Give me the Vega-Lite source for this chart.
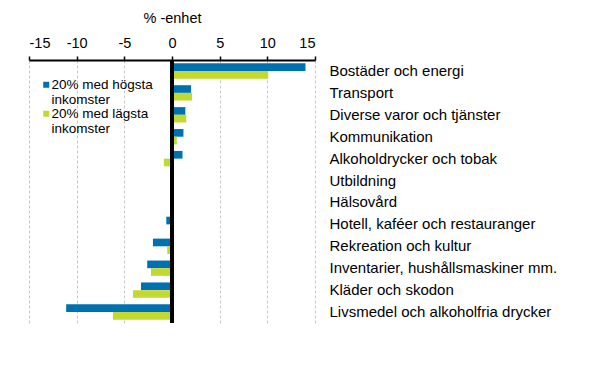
{
  "$schema": "https://vega.github.io/schema/vega-lite/v6.json",
  "autosize": "none",
  "width": 286,
  "height": 263,
  "padding": {"left": 29, "top": 60, "right": 299, "bottom": 55},
  "background": "white",
  "config": {"view": {"stroke": null}, "font": "Liberation Sans"},
  "data": {"values": [
    {"cat": "Bostäder och energi", "grupp": "20% med högsta inkomster", "value": 14.0},
    {"cat": "Bostäder och energi", "grupp": "20% med lägsta inkomster", "value": 10.1},
    {"cat": "Transport", "grupp": "20% med högsta inkomster", "value": 2.0},
    {"cat": "Transport", "grupp": "20% med lägsta inkomster", "value": 2.1},
    {"cat": "Diverse varor och tjänster", "grupp": "20% med högsta inkomster", "value": 1.4},
    {"cat": "Diverse varor och tjänster", "grupp": "20% med lägsta inkomster", "value": 1.5},
    {"cat": "Kommunikation", "grupp": "20% med högsta inkomster", "value": 1.2},
    {"cat": "Kommunikation", "grupp": "20% med lägsta inkomster", "value": 0.5},
    {"cat": "Alkoholdrycker och tobak", "grupp": "20% med högsta inkomster", "value": 1.1},
    {"cat": "Alkoholdrycker och tobak", "grupp": "20% med lägsta inkomster", "value": -0.85},
    {"cat": "Utbildning", "grupp": "20% med högsta inkomster", "value": 0},
    {"cat": "Utbildning", "grupp": "20% med lägsta inkomster", "value": 0},
    {"cat": "Hälsovård", "grupp": "20% med högsta inkomster", "value": 0},
    {"cat": "Hälsovård", "grupp": "20% med lägsta inkomster", "value": 0},
    {"cat": "Hotell, kaféer och restauranger", "grupp": "20% med högsta inkomster", "value": -0.6},
    {"cat": "Hotell, kaféer och restauranger", "grupp": "20% med lägsta inkomster", "value": -0.2},
    {"cat": "Rekreation och kultur", "grupp": "20% med högsta inkomster", "value": -2.0},
    {"cat": "Rekreation och kultur", "grupp": "20% med lägsta inkomster", "value": -0.5},
    {"cat": "Inventarier, hushållsmaskiner mm.", "grupp": "20% med högsta inkomster", "value": -2.6},
    {"cat": "Inventarier, hushållsmaskiner mm.", "grupp": "20% med lägsta inkomster", "value": -2.2},
    {"cat": "Kläder och skodon", "grupp": "20% med högsta inkomster", "value": -3.25},
    {"cat": "Kläder och skodon", "grupp": "20% med lägsta inkomster", "value": -4.1},
    {"cat": "Livsmedel och alkoholfria drycker", "grupp": "20% med högsta inkomster", "value": -11.1},
    {"cat": "Livsmedel och alkoholfria drycker", "grupp": "20% med lägsta inkomster", "value": -6.2}
  ]},
  "layer": [
    {
      "mark": {"type": "bar"},
      "encoding": {
        "y": {
          "field": "cat", "type": "nominal", "sort": null,
          "scale": {"paddingInner": 0.3, "paddingOuter": 0.15},
          "axis": {
            "orient": "right", "title": null, "domain": false, "ticks": false,
            "labelPadding": 14, "labelFontSize": 15, "labelColor": "#000000",
            "labelAlign": "left", "labelLimit": 300
          }
        },
        "yOffset": {"field": "grupp", "type": "nominal", "sort": null, "scale": {"paddingInner": 0, "paddingOuter": 0}},
        "x": {
          "field": "value", "type": "quantitative",
          "scale": {"domain": [-15, 15], "nice": false},
          "axis": {
            "orient": "top", "title": "% -enhet", "values": [-15, -10, -5, 0, 5, 10, 15],
            "labelExpr": "replace(datum.label, '−', '-')",
            "labelFontSize": 14.5, "labelColor": "#000000", "labelPadding": 5.5,
            "titleFontSize": 14.5, "titleFontWeight": "normal", "titleColor": "#000000", "titlePadding": 10,
            "domainColor": "#000000", "domainWidth": 2,
            "tickColor": "#000000", "tickWidth": 1.5, "tickSize": 4,
            "grid": true, "gridColor": "#c8c8c8", "gridDash": [3, 2], "gridWidth": 1,
            "gridOpacity": {"condition": {"test": "datum.value === 0", "value": 0}, "value": 1}
          }
        },
        "color": {
          "field": "grupp", "type": "nominal", "sort": null,
          "scale": {"range": ["#0071b0", "#c2d92f"]},
          "legend": {
            "title": null, "orient": "none", "legendX": 10.5, "legendY": 18,
            "symbolType": "M-1,-1H1V1H-1Z", "symbolSize": 36, "symbolStrokeWidth": 0,
            "labelFontSize": 13.5, "labelColor": "#000000", "labelOffset": -1.5,
            "labelExpr": "[replace(datum.label, ' inkomster', ''), 'inkomster']",
            "labelBaseline": "middle", "rowPadding": -2, "padding": 0, "labelLimit": 200
          }
        }
      }
    },
    {
      "mark": {"type": "rule", "color": "#000000", "strokeWidth": 2.5},
      "encoding": {"x": {"datum": 0}}
    }
  ]
}
